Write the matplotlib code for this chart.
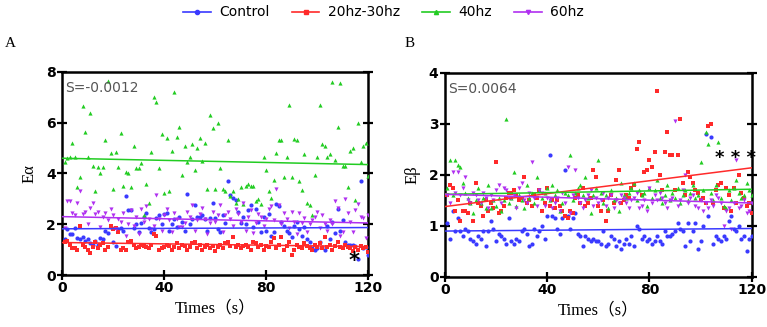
import numpy as np
import matplotlib
matplotlib.use("Agg")
import matplotlib.pyplot as plt
from matplotlib.lines import Line2D

# ---- data ----
times = np.arange(1, 121)

a_control = [1.4,1.8,1.6,1.6,1.85,1.45,1.4,1.5,1.35,1.4, 1.25,1.2,1.35,1.2,1.45,1.4,1.75,1.65,1.9,1.3,
             1.15,1.8,1.85,1.75,3.1,2.55,2.55,1.85,2.0,1.7, 2.05,2.3,2.45,1.85,1.7,1.8,2.25,2.35,2.0,2.4,
             2.45,1.75,2.0,2.2,1.9,2.3,2.1,1.75,3.2,2.0, 2.2,2.75,2.3,2.3,2.35,2.2,1.75,2.25,2.85,2.25,
             1.8,1.7,2.35,2.05,3.7,3.15,3.05,2.95,2.5,2.05, 2.3,2.0,2.55,2.75,1.9,2.6,2.1,1.7,2.3,1.75,
             2.4,1.55,1.7,2.8,2.7,2.1,1.95,1.75,1.65,1.5, 1.95,2.1,1.8,1.55,1.9,1.4,1.3,1.05,1.0,1.05,
             1.3,1.1,1.0,1.95,1.4,2.1,1.65,2.6,1.75,2.15, 1.3,1.2,1.2,1.2,1.15,0.65,3.7,1.05,1.1,0.8]
a_2030 = [1.3,1.35,1.2,1.05,1.05,1.0,1.95,1.2,1.1,1.0, 0.85,1.1,1.3,1.05,1.2,1.25,1.0,1.1,1.95,1.8,
          1.85,1.7,1.0,1.05,1.0,1.3,1.35,1.2,1.05,1.1, 1.2,1.15,1.1,1.05,1.2,1.6,1.55,1.0,1.05,1.1,
          1.2,1.15,1.0,1.1,1.25,1.05,1.2,1.15,1.0,1.1, 1.25,1.3,1.05,1.2,1.0,1.1,1.2,1.05,1.15,0.95,
          1.1,1.2,1.05,1.25,1.3,1.15,1.5,1.1,1.2,1.05, 1.15,1.2,1.1,1.0,1.3,1.25,1.1,1.2,1.0,1.15,
          1.1,1.3,1.45,1.05,1.2,1.5,1.0,1.15,1.3,0.8, 1.0,1.2,1.1,1.05,1.25,1.15,1.05,1.0,1.2,1.1,
          1.25,1.05,1.5,1.1,1.2,1.0,1.15,1.3,1.1,1.05, 1.2,1.1,1.05,0.95,1.1,1.0,1.15,1.05,1.1,0.9]
a_40 = [4.45,4.6,4.65,5.2,4.65,3.45,3.85,6.65,5.65,4.65, 6.4,4.3,3.3,4.25,4.0,4.25,5.3,7.65,4.8,3.4,
        4.85,4.25,5.6,3.5,4.05,4.0,3.45,5.1,4.2,4.2, 4.4,2.35,3.6,2.85,4.85,7.0,6.8,4.2,5.55,3.25,
        5.4,3.3,4.9,7.2,5.45,5.85,3.95,5.1,4.45,4.65, 5.15,4.15,5.0,5.4,4.5,5.2,3.4,6.3,5.8,3.4,
        6.0,4.2,3.4,3.3,5.3,3.1,3.3,2.85,3.0,3.45, 2.8,3.5,3.6,3.5,3.5,2.9,3.0,2.8,4.65,4.15,
        3.3,3.05,3.75,4.8,5.3,5.3,3.85,4.65,6.7,3.85, 5.35,5.3,3.7,3.35,4.75,2.85,2.75,2.35,3.95,4.65,
        6.7,5.15,5.1,4.65,4.75,7.6,4.55,5.85,7.55,4.3, 4.3,3.45,4.9,5.0,2.95,6.0,4.45,5.1,5.2,3.9]
a_60 = [1.85,2.9,2.9,2.45,2.35,2.85,3.3,2.4,2.5,2.0, 2.65,2.85,2.4,2.5,1.9,2.3,2.45,2.15,2.6,2.35,
        1.8,2.2,2.1,2.45,1.55,2.0,2.55,1.95,2.3,1.6, 2.6,2.1,2.7,2.2,1.8,1.95,3.15,2.2,1.75,2.35,
        2.6,2.15,1.7,2.45,2.2,1.9,1.9,2.05,2.5,2.3, 2.75,1.75,2.15,2.4,2.65,2.2,1.6,2.05,2.5,2.1,
        2.35,2.75,1.7,2.35,2.5,2.2,1.95,2.6,2.4,2.1, 2.85,1.75,2.3,2.55,1.65,2.05,2.4,2.3,1.95,2.2,
        2.6,2.7,2.15,3.4,2.75,2.0,2.45,2.2,1.85,2.5, 2.1,1.6,2.45,2.05,2.25,1.7,2.0,2.15,2.3,2.5,
        1.85,2.35,2.0,1.75,2.15,2.0,2.9,2.65,1.55,1.7, 3.0,2.45,2.1,1.7,2.55,2.8,2.3,2.25,1.45,2.35]

b_control = [1.05,0.75,1.3,0.9,1.15,0.9,0.8,0.95,0.9,0.75, 0.7,0.65,0.8,0.75,0.9,0.6,0.9,1.1,0.95,0.7,
             0.85,0.8,0.75,0.65,1.15,0.7,0.65,0.75,0.7,0.9, 0.95,0.85,0.6,0.65,0.95,0.8,0.9,1.0,0.75,1.2,
             2.4,1.2,1.15,0.95,0.85,1.15,2.1,1.2,0.95,1.15, 1.25,0.85,0.8,0.6,0.8,0.75,0.7,0.75,0.7,0.7,
             0.65,0.9,0.6,0.65,0.8,0.75,0.6,0.7,0.55,0.65, 0.75,0.65,0.8,0.6,1.0,0.95,0.75,0.8,0.7,0.75,
             0.65,0.7,0.8,0.7,0.65,0.9,0.8,0.8,0.85,0.9, 1.05,0.95,0.9,0.6,1.05,0.7,0.9,1.05,0.55,0.7,
             1.0,2.8,1.2,2.75,0.65,0.8,0.75,0.7,0.8,0.75, 1.1,1.2,0.95,0.9,1.0,0.75,0.8,0.5,0.75,0.8]
b_2030 = [1.6,1.8,1.75,1.3,1.5,1.1,1.3,1.3,1.25,1.45, 1.1,1.85,1.45,1.4,1.2,1.5,1.3,1.45,1.35,2.25,
          1.25,1.3,1.4,1.55,1.65,1.65,1.7,1.6,1.5,1.55, 1.95,1.45,1.5,1.4,1.6,1.55,1.7,1.3,1.45,1.75,
          1.4,1.5,1.35,1.5,1.4,1.3,1.2,1.15,1.3,1.25, 1.55,1.6,1.45,1.75,1.4,1.45,1.55,2.1,1.95,1.4,
          1.3,1.5,1.1,1.3,1.6,1.45,1.9,2.1,1.45,1.5, 1.6,1.55,1.75,1.8,2.5,2.65,1.6,2.05,2.1,2.3,
          2.15,2.45,3.65,2.0,1.7,2.45,2.85,2.4,2.4,1.7, 2.4,3.1,1.85,1.6,2.05,1.95,1.85,1.7,1.65,1.5,
          1.55,1.45,2.95,3.0,1.45,1.7,1.8,1.85,1.35,1.75, 1.6,1.3,1.75,1.45,2.0,1.65,1.55,1.4,1.45,1.25]
b_40 = [1.75,2.3,1.6,2.3,2.2,2.15,1.85,1.65,1.55,1.45, 1.25,1.5,1.75,1.45,1.55,1.35,1.8,1.35,1.5,1.4,
        1.55,1.3,1.5,3.1,1.45,1.55,2.05,1.4,1.6,1.5, 1.35,1.8,1.55,1.65,1.45,1.95,1.7,1.55,1.65,1.75,
        1.5,1.8,1.6,1.7,1.3,1.45,1.65,1.6,2.4,1.5, 1.65,1.75,1.8,1.6,1.95,1.55,1.25,1.6,1.75,2.3,
        1.65,1.45,1.6,1.35,1.7,1.5,1.55,1.3,1.85,1.6, 1.55,1.65,1.75,1.85,1.5,1.7,1.6,1.65,1.4,1.75,
        1.55,1.7,1.9,1.55,1.45,1.6,1.8,1.5,1.65,1.55, 1.75,1.45,1.6,1.7,1.5,1.65,1.8,1.55,1.6,2.25,
        1.7,2.85,2.6,1.65,1.5,1.8,2.65,1.55,1.4,1.35, 1.7,1.5,1.75,1.9,1.65,1.55,1.6,1.85,1.7,1.6]
b_60 = [1.6,1.45,2.05,1.65,2.05,1.6,1.75,1.95,1.5,1.45, 1.65,1.6,1.5,1.45,1.65,1.55,1.35,1.6,1.5,1.7,
        1.8,1.45,1.75,1.7,1.55,1.55,1.6,1.35,1.75,1.85, 1.5,1.45,1.65,2.25,1.55,1.4,1.7,1.65,1.4,1.55,
        1.5,1.35,1.45,1.55,1.3,1.65,1.45,2.15,1.25,1.6, 2.1,1.55,1.45,1.35,1.5,1.6,1.7,1.4,1.55,1.45,
        1.5,1.65,1.4,1.55,1.6,1.35,1.5,1.45,1.6,1.55, 1.45,1.35,1.5,1.55,1.65,1.35,1.4,1.5,1.3,1.75,
        1.45,1.6,1.5,1.65,1.55,1.45,1.35,1.5,1.55,3.05, 1.4,1.5,1.7,2.0,1.45,1.55,1.6,1.4,1.35,1.5,
        1.3,1.45,1.35,1.5,1.4,1.6,1.55,1.45,1.0,1.3, 1.35,0.95,1.45,2.3,1.35,1.4,1.5,1.25,1.3,1.45]

# regression line end points (value at t=0, value at t=120)
a_fit = {"Control": (1.82, 1.87), "20hz-30hz": (1.28, 1.12), "40hz": (4.6, 4.35), "60hz": (2.3, 2.05)}
b_fit = {"Control": (0.90, 0.95), "20hz-30hz": (1.38, 2.14), "40hz": (1.62, 1.72), "60hz": (1.62, 1.45)}

labels = ["Control", "20hz-30hz", "40hz", "60hz"]
colors = ["#3a3aff", "#ff2a2a", "#22cc22", "#b030f0"]
markers = ["o", "s", "^", "v"]

serif = ["Liberation Serif", "Noto Sans CJK SC"]


def draw_panel(ax, series, fits, ymax, yticks, ylabel, slope_txt, stars, star_pos, star_size):
    for lab, col, mk, vals in zip(labels, colors, markers, series):
        ax.scatter(times, vals, s=9, marker=mk, color=col, linewidths=0, zorder=3)
        y0, y1 = fits[lab]
        ax.plot([0, 120], [y0, y1], color=col, lw=1.1, zorder=4)
    ax.set_xlim(0, 120)
    ax.set_ylim(0, ymax)
    ax.set_xticks([0, 40, 80, 120])
    ax.set_yticks(yticks)
    ax.tick_params(direction="inout", length=7, width=1.6, labelsize=10, pad=1,
                   right=True, top=False)
    for t in ax.get_xticklabels() + ax.get_yticklabels():
        t.set_fontweight("bold")
    for sp in ax.spines.values():
        sp.set_linewidth(1.8)
    ax.set_xlabel("Times（s）", family=serif, fontsize=12, labelpad=4)
    ax.set_ylabel(ylabel, family=serif, fontsize=12, labelpad=6)
    ax.text(0.01, 0.955, slope_txt, transform=ax.transAxes, color="#555555",
            fontsize=10, va="top", ha="left")
    ax.text(star_pos[0], star_pos[1], stars, fontsize=star_size, fontweight="bold",
            ha="center", va="center", zorder=5)


fig = plt.figure(figsize=(7.67, 3.27), dpi=100)
axA = fig.add_axes([0.081, 0.159, 0.399, 0.621])
axB = fig.add_axes([0.580, 0.153, 0.400, 0.624])

draw_panel(axA, [a_control, a_2030, a_40, a_60], a_fit, 8, [0, 2, 4, 6, 8],
           "Eα", "S=-0.0012", "*", (114.5, 0.55), 15)
draw_panel(axB, [b_control, b_2030, b_40, b_60], b_fit, 4, [0, 1, 2, 3, 4],
           "Eβ", "S=0.0064", "* * *", (113.5, 2.33), 13)

fig.text(0.006, 0.855, "A", family=serif, fontsize=11)
fig.text(0.528, 0.855, "B", family=serif, fontsize=11)

handles = [Line2D([0], [0], color=c, marker=m, markersize=3, lw=1.2)
           for c, m in zip(colors, markers)]
fig.legend(handles, labels, loc="center", bbox_to_anchor=(0.5, 0.962), ncol=4,
           frameon=False, fontsize=10, handlelength=2.0, columnspacing=1.6,
           handletextpad=0.6)

fig.savefig("out.png", dpi=100)
